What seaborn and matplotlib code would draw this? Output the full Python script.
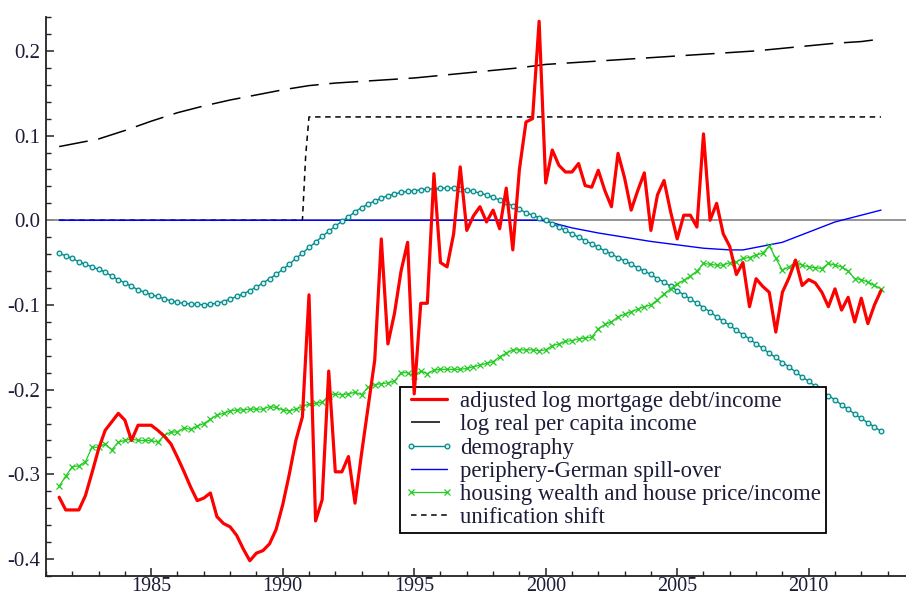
import numpy as np
import pandas as pd
import matplotlib
matplotlib.use("Agg")
import matplotlib.pyplot as plt
from matplotlib.ticker import MultipleLocator
import seaborn as sns

# ---------------- data (quarterly, 1981Q3 .. 2012Q4) ----------------
quarters = np.arange(1981.5, 2012.76, 0.25)

mortgage_debt = [
    -0.327, -0.342, -0.342, -0.342, -0.325, -0.298, -0.270, -0.248, -0.238, -0.228,
    -0.236, -0.260, -0.242, -0.242, -0.242, -0.248, -0.255, -0.264, -0.280, -0.297,
    -0.315, -0.331, -0.328, -0.322, -0.350, -0.358, -0.362, -0.372, -0.388, -0.402,
    -0.393, -0.390, -0.382, -0.365, -0.336, -0.300, -0.260, -0.232, -0.088, -0.355,
    -0.330, -0.178, -0.297, -0.297, -0.279, -0.334, -0.275, -0.220, -0.165, -0.022,
    -0.146, -0.110, -0.060, -0.026, -0.205, -0.098, -0.098, 0.055, -0.050, -0.055,
    -0.016, 0.063, -0.012, 0.005, 0.016, -0.002, 0.012, -0.010, 0.038, -0.035,
    0.060, 0.116, 0.120, 0.235, 0.044, 0.083, 0.065, 0.057, 0.057, 0.067,
    0.041, 0.039, 0.059, 0.035, 0.016, 0.079, 0.050, 0.012, 0.035, 0.056,
    -0.012, 0.030, 0.047, 0.010, -0.022, 0.006, 0.006, -0.008, 0.102, 0.000,
    0.020, -0.016, -0.031, -0.064, -0.050, -0.102, -0.069, -0.078, -0.085, -0.132,
    -0.085, -0.068, -0.047, -0.077, -0.070, -0.074, -0.085, -0.102, -0.081, -0.106,
    -0.091, -0.120, -0.092, -0.122, -0.100, -0.083]

housing = [
    -0.314, -0.302, -0.291, -0.290, -0.285, -0.268, -0.268, -0.264, -0.271, -0.262,
    -0.260, -0.258, -0.260, -0.260, -0.260, -0.262, -0.254, -0.250, -0.250, -0.245,
    -0.247, -0.243, -0.240, -0.235, -0.230, -0.228, -0.225, -0.224, -0.224, -0.223,
    -0.223, -0.223, -0.220, -0.221, -0.224, -0.225, -0.223, -0.220, -0.217, -0.216,
    -0.215, -0.207, -0.205, -0.206, -0.205, -0.203, -0.206, -0.197, -0.194, -0.193,
    -0.192, -0.190, -0.180, -0.180, -0.184, -0.178, -0.181, -0.177, -0.176, -0.176,
    -0.176, -0.176, -0.175, -0.173, -0.171, -0.169, -0.167, -0.161, -0.157, -0.153,
    -0.153, -0.153, -0.153, -0.154, -0.153, -0.148, -0.146, -0.143, -0.142, -0.140,
    -0.139, -0.138, -0.128, -0.123, -0.120, -0.114, -0.111, -0.108, -0.105, -0.102,
    -0.100, -0.094, -0.087, -0.081, -0.075, -0.071, -0.066, -0.060, -0.051, -0.052,
    -0.053, -0.053, -0.050, -0.049, -0.045, -0.044, -0.041, -0.039, -0.030, -0.045,
    -0.059, -0.055, -0.050, -0.053, -0.055, -0.056, -0.057, -0.051, -0.053, -0.055,
    -0.060, -0.069, -0.070, -0.073, -0.077, -0.081]

demography = [
    -0.039, -0.042, -0.045, -0.049, -0.052, -0.055, -0.058, -0.061, -0.066, -0.070,
    -0.074, -0.078, -0.082, -0.085, -0.088, -0.090, -0.093, -0.095, -0.097, -0.098,
    -0.099, -0.099, -0.100, -0.099, -0.098, -0.096, -0.093, -0.090, -0.087, -0.083,
    -0.079, -0.074, -0.069, -0.064, -0.058, -0.052, -0.045, -0.039, -0.032, -0.026,
    -0.019, -0.013, -0.007, -0.001, 0.004, 0.010, 0.015, 0.019, 0.023, 0.026,
    0.029, 0.031, 0.033, 0.034, 0.035, 0.036, 0.037, 0.037, 0.038, 0.038,
    0.038, 0.037, 0.036, 0.034, 0.032, 0.030, 0.027, 0.024, 0.021, 0.017,
    0.013, 0.009, 0.006, 0.003, 0.000, -0.004, -0.008, -0.012, -0.016, -0.020,
    -0.024, -0.028, -0.032, -0.036, -0.040, -0.044, -0.048, -0.052, -0.056, -0.060,
    -0.064, -0.069, -0.073, -0.078, -0.083, -0.088, -0.093, -0.098, -0.103, -0.108,
    -0.114, -0.119, -0.124, -0.130, -0.135, -0.140, -0.146, -0.151, -0.157, -0.162,
    -0.168, -0.173, -0.179, -0.185, -0.190, -0.196, -0.202, -0.207, -0.212, -0.218,
    -0.223, -0.229, -0.234, -0.239, -0.244, -0.249]

income_years = [1981.5, 1982, 1983, 1984, 1985, 1986, 1987, 1988, 1989, 1990, 1991,
                1992, 1993, 1994, 1995, 1996, 1997, 1998, 1999, 2000, 2001, 2002,
                2003, 2004, 2005, 2006, 2007, 2008, 2009, 2010, 2011, 2012, 2012.75]
income = [0.087, 0.090, 0.096, 0.106, 0.117, 0.127, 0.135, 0.142, 0.148, 0.154, 0.159,
          0.162, 0.164, 0.166, 0.168, 0.171, 0.174, 0.177, 0.180, 0.184, 0.186, 0.188,
          0.190, 0.192, 0.194, 0.196, 0.198, 0.200, 0.203, 0.206, 0.209, 0.211, 0.214]

spill_years = [1981.5, 1999.75, 2000, 2001, 2002, 2003, 2004, 2005, 2006, 2007,
               2007.5, 2008, 2009, 2010, 2011, 2012, 2012.75]
spillover = [0.0, 0.0, -0.001, -0.009, -0.015, -0.020, -0.025, -0.029, -0.033, -0.035,
             -0.035, -0.032, -0.026, -0.014, -0.002, 0.006, 0.012]

unif_years = [1981.5, 1990.75, 1990.875, 1991.0, 2012.75]
unification = [0.0, 0.0, 0.077, 0.122, 0.122]

labels = ["adjusted log mortgage debt/income", "log real per capita income",
          "demography", "periphery-German spill-over",
          "housing wealth and house price/income", "unification shift"]

# ---------------- plotting ----------------
sns.set_style("ticks")
plt.rcParams["font.family"] = ["Liberation Serif", "DejaVu Serif"]

fig = plt.figure(figsize=(9.06, 5.94), dpi=100)
ax = fig.add_axes([46 / 906, 18 / 594, 1 - 46 / 906, (576 - 17) / 594])

q = pd.DataFrame({"t": quarters, "debt": mortgage_debt, "house": housing, "demo": demography})
inc = pd.DataFrame({"t": income_years, "v": income})
spl = pd.DataFrame({"t": spill_years, "v": spillover})
uni = pd.DataFrame({"t": unif_years, "v": unification})

ax.axhline(0, color="#8c8c8c", lw=1.3, zorder=1)

sns.lineplot(data=uni, x="t", y="v", ax=ax, color="black", lw=1.1,
             linestyle=(0, (3.6, 3.0)), estimator=None, zorder=2)
sns.lineplot(data=inc, x="t", y="v", ax=ax, color="black", lw=1.1,
             linestyle=(0, (19.0, 7.0)), estimator=None, zorder=2)
sns.lineplot(data=spl, x="t", y="v", ax=ax, color="#0000ff", lw=1.0,
             estimator=None, zorder=3)
sns.lineplot(data=q, x="t", y="demo", ax=ax, color="#008b8b", lw=1.0,
             marker="o", markersize=3.4, markerfacecolor="#d8f0f0",
             markeredgecolor="#008b8b", markeredgewidth=0.9, estimator=None, zorder=4)
sns.lineplot(data=q, x="t", y="house", ax=ax, color="#22cc22", lw=0.9,
             marker="x", markersize=4.6, markeredgecolor="#22cc22",
             markeredgewidth=0.9, estimator=None, zorder=5)
sns.lineplot(data=q, x="t", y="debt", ax=ax, color="#ff0000", lw=2.3,
             estimator=None, zorder=6)

lines = ax.get_lines()
# order: axhline, unification, income, spill, demo, house, debt
h_debt, h_inc, h_demo, h_spill, h_house, h_uni = lines[6], lines[2], lines[4], lines[3], lines[5], lines[1]

ax.set_xlim(1981.0, 2013.7)
ax.set_ylim(-0.42, 0.24)
ax.set_xlabel("")
ax.set_ylabel("")

ax.xaxis.set_major_locator(MultipleLocator(5))
ax.xaxis.set_minor_locator(MultipleLocator(1))
ax.yaxis.set_major_locator(MultipleLocator(0.1))
ax.yaxis.set_minor_locator(MultipleLocator(0.02))
ax.yaxis.set_major_formatter(matplotlib.ticker.FuncFormatter(lambda v, p: f"{v:.1f}"))

for s in ["top", "right"]:
    ax.spines[s].set_visible(False)
for s in ["left", "bottom"]:
    ax.spines[s].set_linewidth(1.3)
    ax.spines[s].set_color("#222222")

ax.tick_params(which="major", direction="in", length=6, width=1.1, colors="#222222",
               labelsize=15, labelcolor="#1c1c38", pad=4)
ax.tick_params(which="minor", direction="in", length=3.5, width=1.0, colors="#222222")
ax.tick_params(axis="x", which="major", pad=0.5, labelsize=14.5)

leg = ax.legend([h_debt, h_inc, h_demo, h_spill, h_house, h_uni], labels,
                loc="lower left", bbox_to_anchor=(0.4116, 0.0769), borderaxespad=0,
                frameon=True, fancybox=False, framealpha=1, edgecolor="black",
                fontsize=16.4, handlelength=2.15, handletextpad=0.3, labelspacing=0.1,
                borderpad=0.2, numpoints=2)
leg.get_frame().set_linewidth(1.3)
for t in leg.get_texts():
    t.set_color("#1c1c38")

fig.savefig("out.png", dpi=100)
